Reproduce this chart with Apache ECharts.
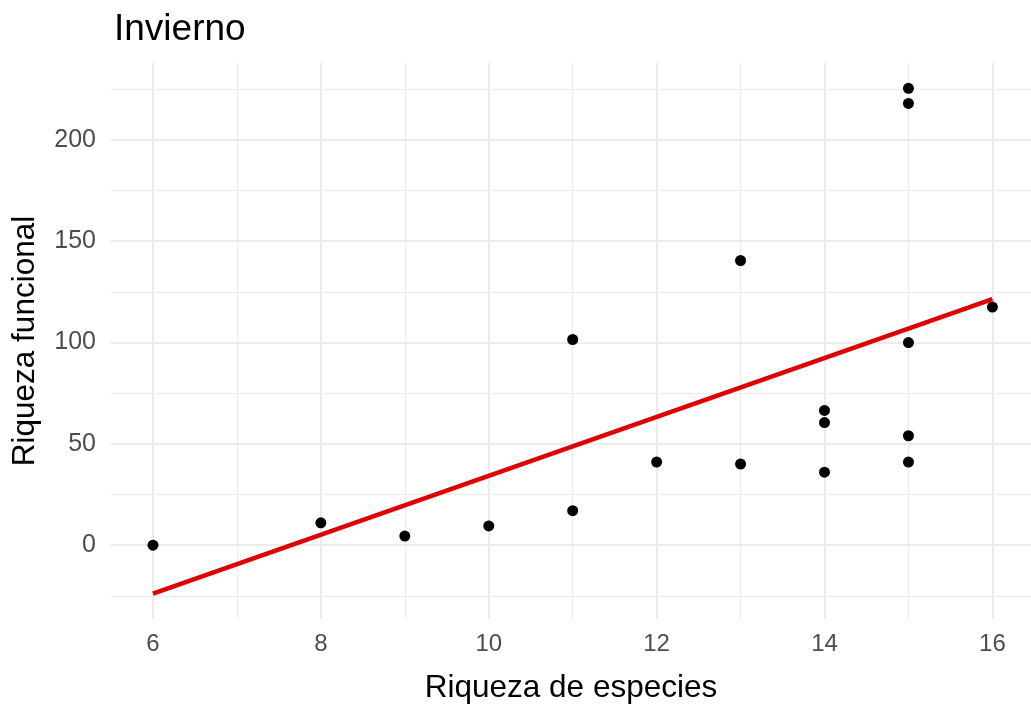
<!DOCTYPE html>
<html>
<head>
<meta charset="utf-8">
<title>Invierno</title>
<script src="https://cdn.jsdelivr.net/npm/echarts@6/dist/echarts.min.js"></script>
<style>
  html, body { margin: 0; padding: 0; background: #ffffff; }
  #chart { width: 1031px; height: 704px; }
</style>
</head>
<body>
<div id="chart"></div>
<script>
// Species richness vs. functional richness, winter sampling
const especies  = [6, 8, 9, 10, 11, 11, 12, 13, 13, 14, 14, 14, 15, 15, 15, 15, 15, 16];
const funcional = [0, 11, 4.5, 9.5, 17, 101.5, 41, 40, 140.5, 36, 60.5, 66.5, 41, 54, 100, 218, 225.5, 117.5];

// Axis breaks
const xMajorTicks = [6, 8, 10, 12, 14, 16];
const xMinorTicks = [7, 9, 11, 13, 15];
const yMajorTicks = [0, 50, 100, 150, 200];
const yMinorTicks = [-25, 25, 75, 125, 175, 225];

// Ordinary least squares fit of funcional ~ especies
const n = especies.length;
const meanX = especies.reduce((a, b) => a + b, 0) / n;
const meanY = funcional.reduce((a, b) => a + b, 0) / n;
let sxx = 0, sxy = 0;
for (let i = 0; i < n; i++) {
  sxx += (especies[i] - meanX) * (especies[i] - meanX);
  sxy += (especies[i] - meanX) * (funcional[i] - meanY);
}
const slope = sxy / sxx;
const intercept = meanY - slope * meanX;
const xLo = Math.min(...especies), xHi = Math.max(...especies);
const fitLine = [[xLo, intercept + slope * xLo], [xHi, intercept + slope * xHi]];

// Panel limits with 5% padding on y
const yLow = Math.min(...funcional, fitLine[0][1], fitLine[1][1]);
const yHigh = Math.max(...funcional, fitLine[0][1], fitLine[1][1]);
const yPad = (yHigh - yLow) * 0.05;
const yMin = yLow - yPad, yMax = yHigh + yPad;
const xMin = 5.5, xMax = 16.46;

const points = especies.map((x, i) => [x, funcional[i]]);

const FONT = "'Liberation Sans', Arial, sans-serif";
const GRID = '#ebebeb';

const chart = echarts.init(document.getElementById('chart'), null, { renderer: 'canvas' });
chart.setOption({
  animation: false,
  backgroundColor: '#ffffff',
  textStyle: { fontFamily: FONT },
  title: {
    text: 'Invierno',
    left: 109,
    top: 6,
    textStyle: { fontFamily: FONT, fontSize: 37, fontWeight: 'normal', color: '#000000' }
  },
  grid: { left: 111, right: 0, top: 63, bottom: 85, containLabel: false, outerBoundsMode: 'none' },
  xAxis: [
    {
      type: 'value', min: xMin, max: xMax, position: 'bottom',
      axisLine: { show: false },
      axisTick: { show: false, customValues: xMajorTicks },
      axisLabel: { customValues: xMajorTicks, fontSize: 24, color: '#4d4d4d', margin: 13, fontFamily: FONT },
      splitLine: { show: true, lineStyle: { color: GRID, width: 2 } },
      name: 'Riqueza de especies', nameLocation: 'middle', nameGap: 53,
      nameTextStyle: { fontSize: 31.5, color: '#000000', fontFamily: FONT }
    },
    {
      type: 'value', min: xMin, max: xMax, position: 'top',
      axisLine: { show: false },
      axisTick: { show: false, customValues: xMinorTicks },
      axisLabel: { show: false, customValues: xMinorTicks },
      splitLine: { show: true, lineStyle: { color: GRID, width: 1 } }
    }
  ],
  yAxis: [
    {
      type: 'value', min: yMin, max: yMax, position: 'left',
      axisLine: { show: false },
      axisTick: { show: false, customValues: yMajorTicks },
      axisLabel: { customValues: yMajorTicks, fontSize: 25, color: '#4d4d4d', margin: 15, fontFamily: FONT },
      splitLine: { show: true, lineStyle: { color: GRID, width: 2 } },
      name: 'Riqueza funcional', nameLocation: 'middle', nameGap: 70,
      nameTextStyle: { fontSize: 31.5, color: '#000000', fontFamily: FONT }
    },
    {
      type: 'value', min: yMin, max: yMax, position: 'right',
      axisLine: { show: false },
      axisTick: { show: false, customValues: yMinorTicks },
      axisLabel: { show: false, customValues: yMinorTicks },
      splitLine: { show: true, lineStyle: { color: GRID, width: 1 } }
    }
  ],
  series: [
    {
      type: 'scatter',
      xAxisIndex: 0, yAxisIndex: 0,
      data: points,
      symbol: 'circle',
      symbolSize: 11,
      itemStyle: { color: '#000000', opacity: 1 },
      z: 2
    },
    {
      type: 'line',
      xAxisIndex: 0, yAxisIndex: 0,
      data: fitLine,
      showSymbol: false,
      lineStyle: { color: '#df0000', width: 4.5, cap: 'butt' },
      z: 3
    }
  ]
});
</script>
</body>
</html>
